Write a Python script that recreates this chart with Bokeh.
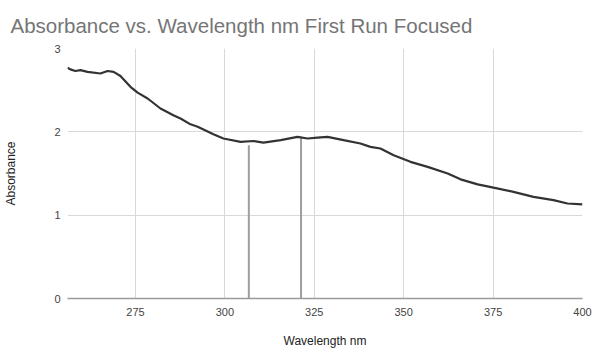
from bokeh.plotting import figure
from bokeh.embed import file_html
from bokeh.resources import INLINE
from bokeh.models import FixedTicker, Range1d

# Data
wavelength = [256.0, 256.8, 258.2, 259.6, 261.6, 265.2, 267.2, 268.9, 270.8, 273.6,
              275.6, 278.4, 282.0, 285.6, 287.6, 290.4, 292.4, 296.8, 299.6, 304.4,
              308.0, 310.8, 315.6, 320.3, 323.1, 325.9, 328.7, 333.2, 337.9, 340.7,
              343.5, 347.2, 351.9, 356.7, 362.3, 365.9, 370.7, 375.1, 380.7, 386.3,
              391.9, 395.8, 400.0]
absorbance = [2.77, 2.75, 2.73, 2.74, 2.72, 2.70, 2.73, 2.72, 2.67, 2.54,
              2.47, 2.40, 2.28, 2.20, 2.16, 2.09, 2.06, 1.97, 1.92, 1.88,
              1.89, 1.87, 1.90, 1.94, 1.92, 1.93, 1.94, 1.90, 1.86, 1.82,
              1.80, 1.72, 1.64, 1.58, 1.50, 1.43, 1.37, 1.33, 1.28, 1.22,
              1.18, 1.14, 1.13]

# Marker lines
marker_x = [306.7, 321.3]
marker_top = [1.84, 1.94]

x_ticks = [275, 300, 325, 350, 375, 400]
y_ticks = [0, 1, 2, 3]

title_text = "Absorbance  vs. Wavelength nm First Run Focused"
x_label = "Wavelength nm"
y_label = "Absorbance"

W, H = 593, 354
p = figure(width=W, height=H, output_backend="svg", toolbar_location=None,
           x_range=Range1d(256, 400), y_range=Range1d(0, 3),
           min_border_left=67, min_border_right=11, min_border_top=48,
           min_border_bottom=56)

p.title.text = title_text
p.title.text_font = "Liberation Sans"
p.title.text_font_size = "20.5px"
p.title.text_font_style = "normal"
p.title.text_color = "#757575"
p.title.align = "left"
p.title.vertical_align = "top"
p.title.offset = -57
p.title.standoff = 20

p.outline_line_color = None
p.background_fill_color = "white"
p.border_fill_color = "white"

p.xgrid.ticker = FixedTicker(ticks=x_ticks)
p.ygrid.ticker = FixedTicker(ticks=y_ticks)
p.xgrid.grid_line_color = "#d9d9d9"
p.ygrid.grid_line_color = "#d9d9d9"

p.xaxis.ticker = FixedTicker(ticks=x_ticks)
p.yaxis.ticker = FixedTicker(ticks=y_ticks)

for ax in (p.xaxis, p.yaxis):
    ax.major_tick_line_color = None
    ax.minor_tick_line_color = None
    ax.major_tick_out = 0
    ax.major_tick_in = 0
    ax.minor_tick_out = 0
    ax.major_label_text_font = "Liberation Sans"
    ax.major_label_text_font_size = "11px"
    ax.major_label_text_color = "#444444"
    ax.axis_label_text_font = "Liberation Sans"
    ax.axis_label_text_font_size = "12px"
    ax.axis_label_text_font_style = "normal"
    ax.axis_label_text_color = "#222222"

p.yaxis.axis_line_color = None
p.xaxis.axis_line_color = "#9a9a9a"
p.xaxis.axis_line_width = 1.5
p.xaxis.axis_label = x_label
p.yaxis.axis_label = y_label
p.xaxis.major_label_standoff = 9
p.yaxis.major_label_standoff = 7
p.xaxis.axis_label_standoff = 15
p.yaxis.axis_label_standoff = 33

p.segment(x0=marker_x, y0=[0, 0], x1=marker_x, y1=marker_top,
          line_color="#9e9e9e", line_width=2)
p.line(wavelength, absorbance, line_color="#333333", line_width=2.2)

open("out.html", "w").write(file_html(p, INLINE))
